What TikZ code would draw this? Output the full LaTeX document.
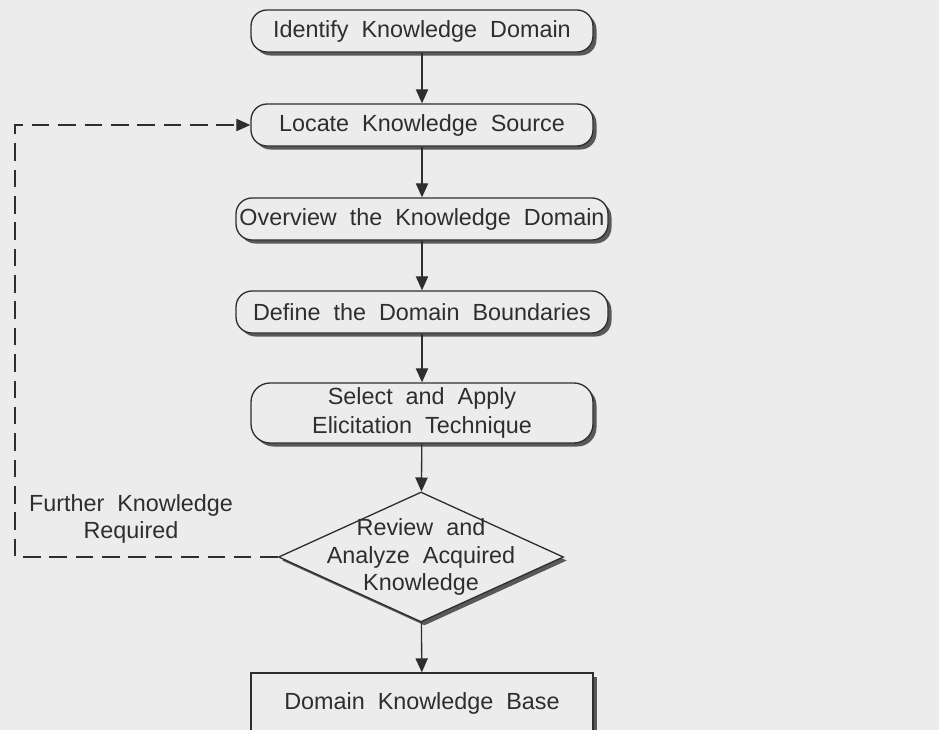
\documentclass[tikz,border=0pt]{standalone}
\usepackage{fontspec}
\setmainfont{Liberation Sans}[WordSpace=2]
\usetikzlibrary{arrows.meta,positioning,shapes.geometric,shadows}
\definecolor{Pencil}{HTML}{2E2E2E}
\definecolor{Paper}{HTML}{ECECEC}
\definecolor{Shade}{HTML}{595959}

\begin{document}
\begin{tikzpicture}[x=1cm,y=1cm,>=stealth,
  stage/.style={draw=Pencil,line width=0.75pt,fill=Paper,rounded corners=0.32cm,
    minimum height=0.84cm,inner sep=0pt,align=center,text=Pencil,
    font=\fontsize{13.3}{17}\selectfont,
    drop shadow={shadow xshift=2pt,shadow yshift=-2pt,fill=Shade,opacity=1}},
  decision/.style={diamond,draw=Pencil,line width=0.75pt,fill=Paper,aspect=2.19,
    minimum width=5.7cm,minimum height=2.6cm,inner sep=0pt,
    drop shadow={shadow xshift=2pt,shadow yshift=-2pt,fill=Shade,opacity=1}},
  flow/.style={Pencil,line width=0.75pt,-{Triangle[length=8pt,width=7pt]}},
  feedback/.style={Pencil,line width=0.75pt,dash pattern=on 10pt off 5pt,-{Triangle[length=8pt,width=7pt]}}]
\useasboundingbox (0,0) rectangle (18.78,-14.6);
\clip (0,0) rectangle (18.78,-14.6);
\fill[Paper] (0,0) rectangle (18.78,-14.6);
% main chain
\node[stage,minimum width=6.84cm] (identify) at (8.44,-0.62) {Identify Knowledge Domain};
\node[stage,minimum width=6.84cm] (locate) at (8.44,-2.50) {Locate Knowledge Source};
\node[stage,minimum width=7.44cm] (overview) at (8.44,-4.38) {Overview the Knowledge Domain};
\node[stage,minimum width=7.44cm] (define) at (8.44,-6.24) {Define the Domain Boundaries};
\node[stage,minimum width=6.84cm,minimum height=1.2cm,rounded corners=0.38cm] (select) at (8.44,-8.26) {Select and Apply\\Elicitation Technique};
\node[decision,label={[align=center,text=Pencil,font=\fontsize{13.3}{15.8}\selectfont]center:Review and\\Analyze Acquired\\Knowledge}] (review) at (8.42,-11.14) {};
\node[stage,rounded corners=0pt,minimum width=6.84cm,minimum height=1.2cm] (base) at (8.44,-14.06) {Domain Knowledge Base};
\node[align=center,text=Pencil,font=\fontsize{13.3}{15.8}\selectfont] (further) at (2.62,-10.38) {Further Knowledge\\Required};
\coordinate (corner) at (0.30,-2.50);
\draw[flow] (identify) -- (locate);
\draw[flow] (locate) -- (overview);
\draw[flow] (overview) -- (define);
\draw[flow] (define) -- (select);
\draw[flow] (select) -- (review);
\draw[flow] (review) -- (base);
% loop back
\draw[feedback] (review.west) -- (corner |- review.west) -- (corner) -- (locate.west);
\end{tikzpicture}
\end{document}
